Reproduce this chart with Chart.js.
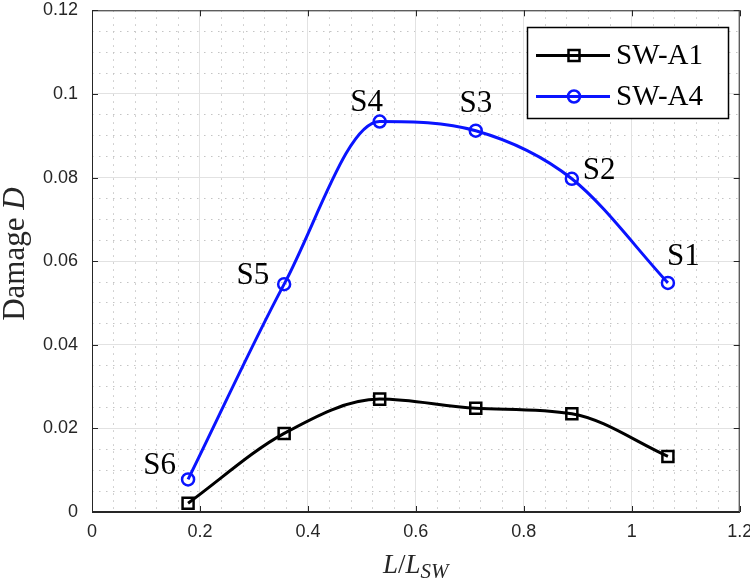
<!DOCTYPE html>
<html>
<head>
<meta charset="utf-8">
<script src="https://cdn.jsdelivr.net/npm/chart.js@4/dist/chart.umd.min.js"></script>
<style>
html,body{margin:0;padding:0;background:#fff;}
#wrap{width:750px;height:582px;position:relative;}
</style>
</head>
<body>
<div id="wrap"><canvas id="c" width="750" height="582"></canvas></div>
<script>
// ---- data ----
const ratios = [0.178, 0.356, 0.533, 0.711, 0.889, 1.067];
const damageA1 = [0.0021, 0.0188, 0.0270, 0.0248, 0.0235, 0.0133];
const damageA4 = [0.0078, 0.0545, 0.0934, 0.0912, 0.0797, 0.0548];
const stageLabels = ['S6', 'S5', 'S4', 'S3', 'S2', 'S1'];
const seriesNames = ['SW-A1', 'SW-A4'];
const xTicks = [0, 0.2, 0.4, 0.6, 0.8, 1, 1.2];
const yTicks = [0, 0.02, 0.04, 0.06, 0.08, 0.1, 0.12];

const SERIF = '"Liberation Serif", "Times New Roman", serif';
const SANS = '"Liberation Sans", Arial, sans-serif';
const BLUE = '#0a14ff';

// label offsets relative to points: [dx, dy, align]
const labelPos = [[-12, -5, 'right'], [-15, 0, 'right'], [-13, -11, 'center'], [0, -19, 'center'], [11, 0, 'left'], [-1, -18, 'left']];

const decor = {
  id: 'decor',
  afterDatasetsDraw(chart) {
    const ctx = chart.ctx, a = chart.chartArea;
    const xs = chart.scales.x, ys = chart.scales.y;
    ctx.save();
    // frame
    ctx.strokeStyle = '#262626';
    ctx.lineWidth = 1;
    ctx.strokeRect(a.left + 0.5, a.top + 0.5, a.right - a.left - 1, a.bottom - a.top - 1);
    // inside ticks
    ctx.beginPath();
    xTicks.forEach(v => {
      const px = Math.round(xs.getPixelForValue(v)) + 0.5;
      ctx.moveTo(px, a.bottom); ctx.lineTo(px, a.bottom - 6);
      ctx.moveTo(px, a.top); ctx.lineTo(px, a.top + 6);
    });
    yTicks.forEach(v => {
      const py = Math.round(ys.getPixelForValue(v)) + 0.5;
      ctx.moveTo(a.left, py); ctx.lineTo(a.left + 6, py);
      ctx.moveTo(a.right, py); ctx.lineTo(a.right - 6, py);
    });
    ctx.stroke();
    // stage labels on SW-A4
    const meta = chart.getDatasetMeta(1);
    ctx.fillStyle = '#000';
    ctx.font = '31px ' + SERIF;
    ctx.textBaseline = 'alphabetic';
    meta.data.forEach((pt, i) => {
      const p = labelPos[i];
      ctx.textAlign = p[2];
      ctx.fillText(stageLabels[i], pt.x + p[0], pt.y + p[1]);
    });
    // legend
    const bx = 527, by = 27, bw = 202, bh = 92;
    ctx.fillStyle = '#fff';
    ctx.fillRect(bx, by, bw, bh);
    ctx.strokeStyle = '#000';
    ctx.lineWidth = 1.5;
    ctx.strokeRect(bx + 0.5, by + 0.5, bw - 1, bh - 1);
    const rows = [{y: 55.5, color: '#000', style: 'rect'}, {y: 96.5, color: BLUE, style: 'circle'}];
    rows.forEach((r, i) => {
      ctx.strokeStyle = r.color;
      ctx.lineWidth = 3;
      ctx.beginPath(); ctx.moveTo(536, r.y); ctx.lineTo(610, r.y); ctx.stroke();
      ctx.lineWidth = 2.5;
      ctx.beginPath();
      if (r.style === 'rect') ctx.rect(574 - 5.5, r.y - 5.5, 11, 11);
      else ctx.arc(574, r.y, 6, 0, Math.PI * 2);
      ctx.stroke();
      ctx.fillStyle = '#000';
      ctx.font = '29px ' + SERIF;
      ctx.textAlign = 'left';
      ctx.fillText(seriesNames[i], 616, r.y + 8);
    });
    ctx.restore();
  },
  afterDraw(chart) {
    const ctx = chart.ctx, a = chart.chartArea;
    ctx.save();
    ctx.fillStyle = '#262626';
    ctx.textBaseline = 'alphabetic';
    ctx.textAlign = 'left';
    // y title: Damage D
    const f1 = '31px ' + SERIF, f2 = 'italic 31px ' + SERIF;
    ctx.font = f1; const w1 = ctx.measureText('Damage ').width;
    ctx.font = f2; const w2 = ctx.measureText('D').width;
    ctx.translate(24, (a.top + a.bottom) / 2 - 7);
    ctx.rotate(-Math.PI / 2);
    let x0 = -(w1 + w2) / 2;
    ctx.font = f1; ctx.fillText('Damage ', x0, 0);
    ctx.font = f2; ctx.fillText('D', x0 + w1, 0);
    ctx.setTransform(1, 0, 0, 1, 0, 0);
    // x title: L/L_SW
    const fi = 'italic 27px ' + SERIF, fr = '27px ' + SERIF, fs = 'italic 21px ' + SERIF;
    const parts = [['L', fi, 0], ['/', fr, 0], ['L', fi, 0], ['SW', fs, 5]];
    let tw = 0;
    parts.forEach(p => { ctx.font = p[1]; p.push(ctx.measureText(p[0]).width); tw += p[3]; });
    let cx = (a.left + a.right) / 2 - tw / 2;
    parts.forEach(p => { ctx.font = p[1]; ctx.fillText(p[0], cx, 573 + p[2]); cx += p[3]; });
    ctx.restore();
  }
};

const fmt = v => String(Number(v.toFixed(2)));
const noPad = s => { s.paddingTop = 0; s.paddingBottom = 0; s.paddingLeft = 0; s.paddingRight = 0; };

new Chart(document.getElementById('c'), {
  type: 'line',
  data: {
    datasets: [
      {
        label: seriesNames[0],
        data: ratios.map((x, i) => ({x, y: damageA1[i]})),
        borderColor: '#000',
        borderWidth: 3,
        pointStyle: 'rect',
        pointRadius: 7.8,
        pointBorderWidth: 2.5,
        pointBorderColor: '#000',
        pointBackgroundColor: 'rgba(0,0,0,0)',
        cubicInterpolationMode: 'monotone',
        fill: false
      },
      {
        label: seriesNames[1],
        data: ratios.map((x, i) => ({x, y: damageA4[i]})),
        borderColor: BLUE,
        borderWidth: 3,
        pointStyle: 'circle',
        pointRadius: 6,
        pointBorderWidth: 2.5,
        pointBorderColor: BLUE,
        pointBackgroundColor: 'rgba(0,0,0,0)',
        cubicInterpolationMode: 'monotone',
        fill: false
      }
    ]
  },
  options: {
    responsive: false,
    animation: false,
    layout: {padding: {left: 0, right: 10, top: 6, bottom: 0}},
    plugins: {legend: {display: false}, tooltip: {enabled: false}},
    scales: {
      xMinor: {
        type: 'linear', position: 'bottom', min: 0, max: 1.2, z: -2,
        ticks: {display: false, stepSize: 0.04},
        grid: {color: '#c4c4c4', lineWidth: 1, drawTicks: false},
        border: {display: false, dash: [1.5, 5.5]},
        afterFit(s) { s.height = 0; noPad(s); }
      },
      yMinor: {
        type: 'linear', position: 'left', min: 0, max: 0.12, z: -2,
        ticks: {display: false, stepSize: 0.005},
        grid: {color: '#c4c4c4', lineWidth: 1, drawTicks: false},
        border: {display: false, dash: [1.5, 5.5]},
        afterFit(s) { s.width = 0; noPad(s); }
      },
      x: {
        type: 'linear', position: 'bottom', min: 0, max: 1.2, z: -1,
        afterBuildTicks(s) { s.ticks = xTicks.map(v => ({value: v})); },
        ticks: {stepSize: 0.2, color: '#262626', font: {family: SANS, size: 18}, padding: 9, callback: fmt, maxRotation: 0},
        grid: {color: '#e2e2e2', lineWidth: 1, drawTicks: false},
        border: {display: true, color: '#262626', width: 1},
        afterFit(s) { s.height = 70; noPad(s); }
      },
      y: {
        type: 'linear', position: 'left', min: 0, max: 0.12, z: -1,
        afterBuildTicks(s) { s.ticks = yTicks.map(v => ({value: v})); },
        ticks: {stepSize: 0.02, color: '#262626', font: {family: SANS, size: 18}, padding: 14, callback: fmt},
        grid: {color: '#e2e2e2', lineWidth: 1, drawTicks: false},
        border: {display: true, color: '#262626', width: 1},
        afterFit(s) { s.width = 92; noPad(s); }
      }
    }
  },
  plugins: [decor]
});
</script>
</body>
</html>
